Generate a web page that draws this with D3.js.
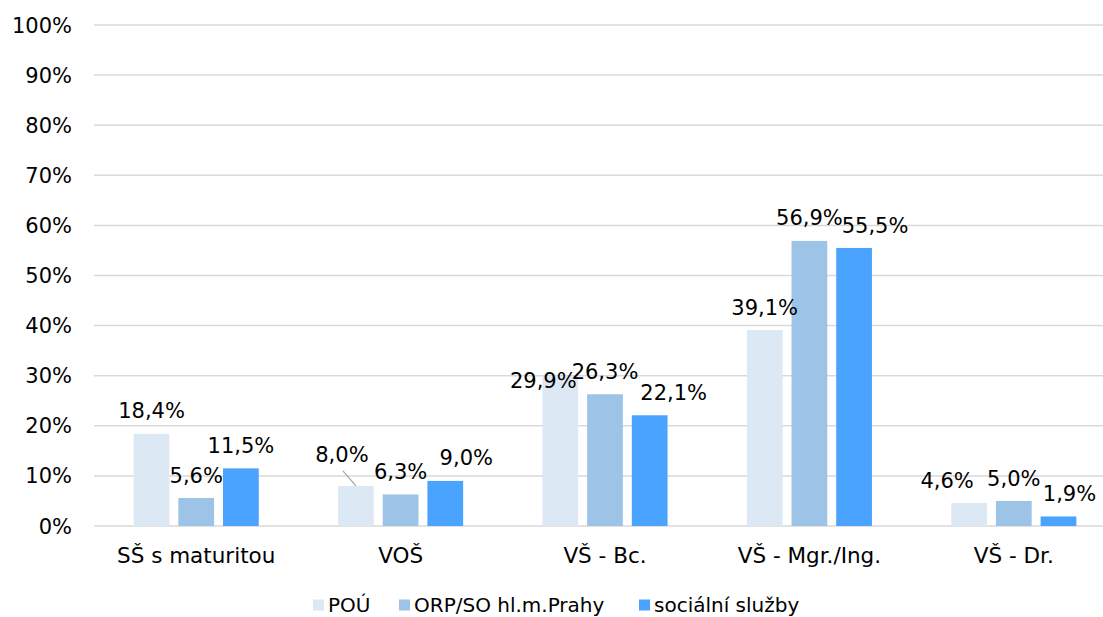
<!DOCTYPE html>
<html>
<head>
<meta charset="utf-8">
<script src="https://cdn.jsdelivr.net/npm/d3@7"></script>
<style>
  body { margin: 0; background: #fff; }
  text { font-family: "DejaVu Sans", Verdana, sans-serif; fill: #000; }
</style>
</head>
<body>
<div id="chart"></div>
<script>
// Data
var categories = ["SŠ s maturitou", "VOŠ", "VŠ - Bc.", "VŠ - Mgr./Ing.", "VŠ - Dr."];
var seriesNames = ["POÚ", "ORP/SO hl.m.Prahy", "sociální služby"];
var seriesColors = ["#dde8f5", "#9dc3e6", "#4aa3fe"];
var pou = [18.4, 8.0, 29.9, 39.1, 4.6];
var orp = [5.6, 6.3, 26.3, 56.9, 5.0];
var soc = [11.5, 9.0, 22.1, 55.5, 1.9];
var yTicks = [0, 10, 20, 30, 40, 50, 60, 70, 80, 90, 100];

// label nudges (Excel labels moved by hand), per series per category
var labelShift = [
  [[0, 0], [-14, -8], [-17, 27], [0, 0], [-22, 0]],
  [[0, 0], [0, 0], [0, 0], [0, 0], [0, 0]],
  [[0, 0], [21, 0], [24, 0], [21, 0], [11, 0]]
];

var svgWidth = 1103;
var svgHeight = 617;

var svg = d3.select("#chart")
  .append("svg")
  .attr("width", svgWidth)
  .attr("height", svgHeight);

var y = d3.scaleLinear().domain([0, 100]).range([526, 25]);

var x0 = d3.scaleBand()
  .domain(categories)
  .range([94, 1116])
  .padding(0);

var pad = (x0.step() - 125.1) / 2;
var x1 = d3.scaleBand()
  .domain(seriesNames)
  .range([pad, x0.step() - pad])
  .paddingInner(0.2)
  .paddingOuter(0);

// gridlines
svg.append("g")
  .selectAll("line")
  .data(yTicks)
  .enter()
  .append("line")
  .attr("x1", 94)
  .attr("x2", 1116)
  .attr("y1", d => y(d))
  .attr("y2", d => y(d))
  .attr("stroke", "#d9d9d9")
  .attr("stroke-width", 1.5);

// y tick labels
svg.append("g")
  .selectAll("text")
  .data(yTicks)
  .enter()
  .append("text")
  .attr("x", 72)
  .attr("y", d => y(d))
  .attr("dy", "0.36em")
  .attr("text-anchor", "end")
  .attr("font-size", "21px")
  .text(d => d + "%");

// bars
var allSeries = [pou, orp, soc];
var rows = [];
allSeries.forEach(function(vals, si) {
  vals.forEach(function(v, ci) {
    rows.push({ s: si, c: ci, v: v });
  });
});

var barX = d => x0(categories[d.c]) + x1(seriesNames[d.s]);

svg.append("g")
  .selectAll("rect")
  .data(rows)
  .enter()
  .append("rect")
  .attr("x", barX)
  .attr("y", d => y(d.v))
  .attr("width", x1.bandwidth())
  .attr("height", d => y(0) - y(d.v))
  .attr("fill", d => seriesColors[d.s]);

// leader line for moved 8,0% label
var lead = rows.filter(d => d.s === 0 && d.c === 1);
svg.append("g")
  .selectAll("line")
  .data(lead)
  .enter()
  .append("line")
  .attr("x1", d => barX(d) + x1.bandwidth() / 2 - 13)
  .attr("y1", d => y(d.v) - 15)
  .attr("x2", d => barX(d) + x1.bandwidth() / 2)
  .attr("y2", d => y(d.v))
  .attr("stroke", "#a6a6a6")
  .attr("stroke-width", 1.2);

// data labels
svg.append("g")
  .selectAll("text")
  .data(rows)
  .enter()
  .append("text")
  .attr("x", d => barX(d) + x1.bandwidth() / 2 + labelShift[d.s][d.c][0])
  .attr("y", d => y(d.v) - 23 + labelShift[d.s][d.c][1])
  .attr("dy", "0.36em")
  .attr("text-anchor", "middle")
  .attr("font-size", "21px")
  .text(d => d.v.toFixed(1).replace(".", ",") + "%");

// category labels
svg.append("g")
  .selectAll("text")
  .data(categories)
  .enter()
  .append("text")
  .attr("x", d => x0(d) + x0.step() / 2)
  .attr("y", 555)
  .attr("dy", "0.36em")
  .attr("text-anchor", "middle")
  .attr("font-size", "21.5px")
  .text(d => d);

// legend
var legendX = [313, 399, 639];
var legend = svg.append("g")
  .selectAll("g")
  .data(seriesNames)
  .enter()
  .append("g")
  .attr("transform", (d, i) => `translate(${legendX[i]}, 605)`);

legend.append("rect")
  .attr("x", 0)
  .attr("y", -5.5)
  .attr("width", 11)
  .attr("height", 11)
  .attr("fill", (d, i) => seriesColors[i]);

legend.append("text")
  .attr("x", 15)
  .attr("y", 0)
  .attr("dy", "0.36em")
  .attr("font-size", "20px")
  .text(d => d);
</script>
</body>
</html>
